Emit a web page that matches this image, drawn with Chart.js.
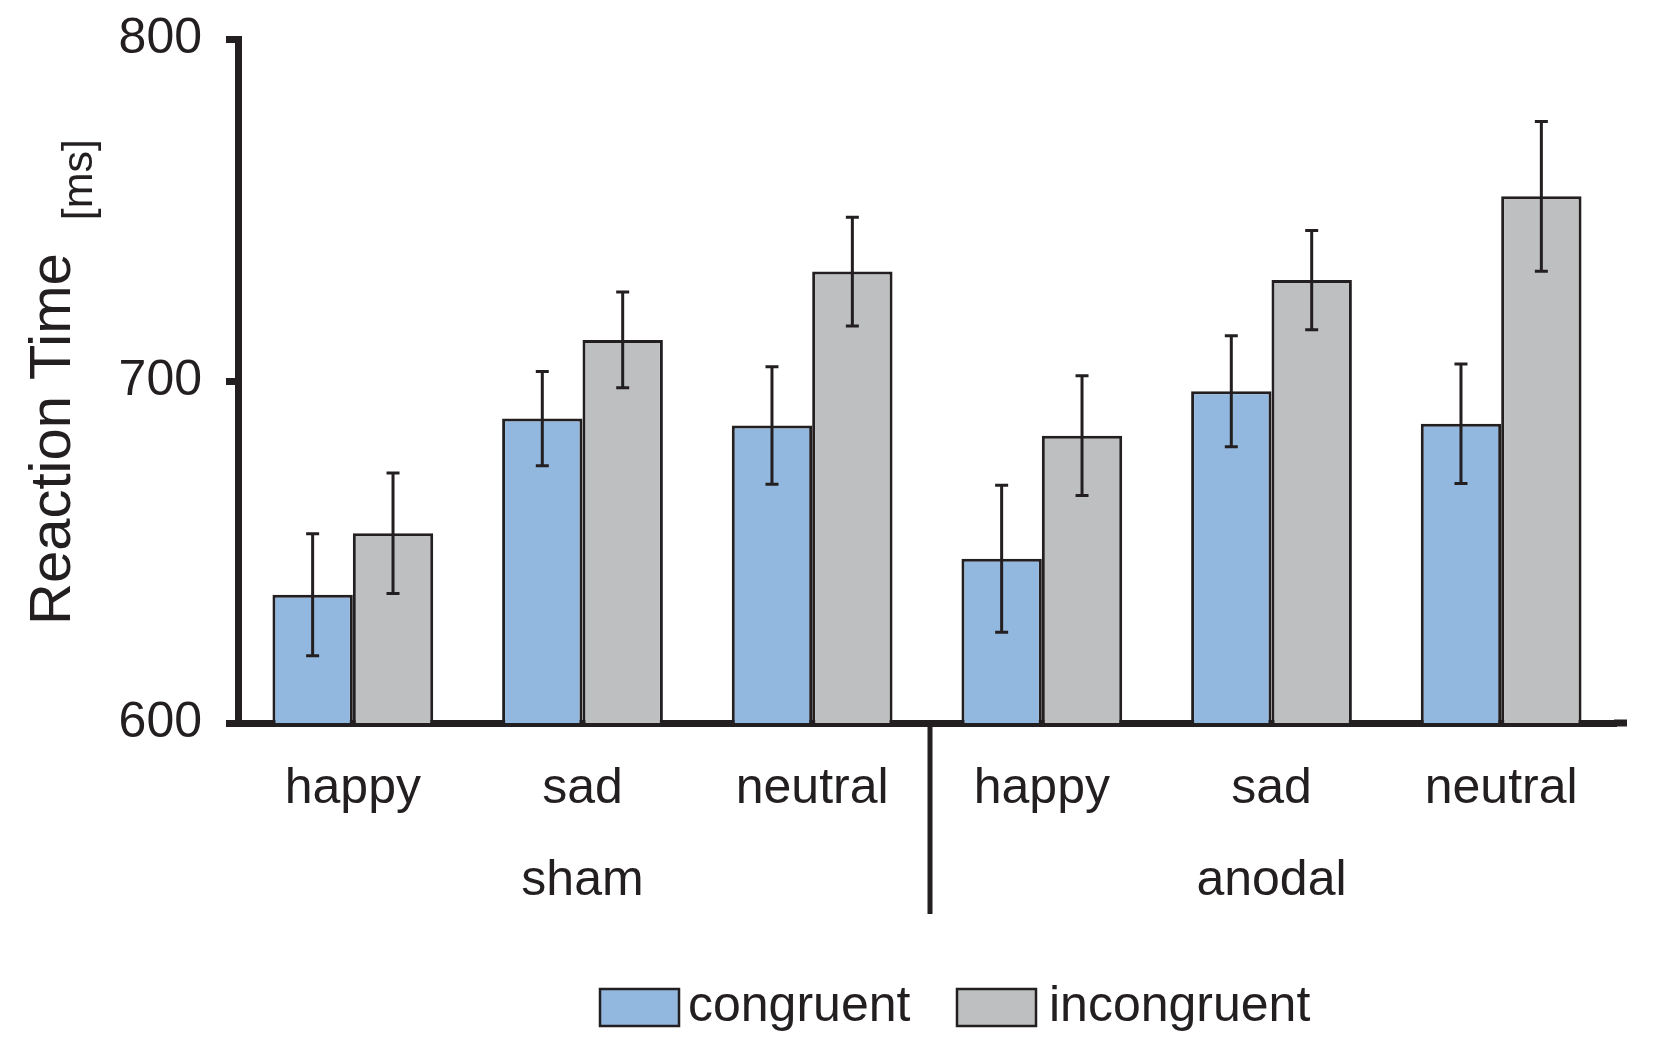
<!DOCTYPE html>
<html>
<head>
<meta charset="UTF-8">
<script src="https://cdn.jsdelivr.net/npm/chart.js@4.4.1/dist/chart.umd.min.js"></script>
<style>
  body { margin: 0; background: #ffffff; }
  #wrap { width: 1654px; height: 1053px; }
</style>
</head>
<body>
<div id="wrap"><canvas id="rt" width="1654" height="1053"></canvas></div>
<script>
// data
const conditions = ['happy', 'sad', 'neutral', 'happy', 'sad', 'neutral'];
const groups = ['sham', 'anodal'];
const seriesNames = ['congruent', 'incongruent'];
const congruent = [637.5, 689, 687, 648, 697, 687.5];
const incongruent = [655.5, 712, 732, 684, 729.5, 754];
const congruentErr = [17.8, 13.8, 17.2, 21.5, 16.2, 17.5];
const incongruentErr = [17.6, 14, 15.9, 17.5, 14.5, 21.9];
const yTicks = [600, 700, 800];

const INK = '#231f20';
const FONT = '"Liberation Sans", Arial, Helvetica, sans-serif';
const colors = ['#92b8df', '#bebfc1'];

// error bars on top of each bar
const errorBars = {
  id: 'errorBars',
  afterDatasetsDraw(chart) {
    const ctx = chart.ctx;
    const y = chart.scales.y;
    const errs = [congruentErr, incongruentErr];
    ctx.save();
    ctx.strokeStyle = INK;
    ctx.lineWidth = 3;
    chart.data.datasets.forEach((ds, di) => {
      const meta = chart.getDatasetMeta(di);
      meta.data.forEach((bar, i) => {
        const v = ds.data[i], e = errs[di][i];
        const top = y.getPixelForValue(v + e);
        const bot = y.getPixelForValue(v - e);
        ctx.beginPath();
        ctx.moveTo(bar.x, top); ctx.lineTo(bar.x, bot);
        ctx.moveTo(bar.x - 6.5, top); ctx.lineTo(bar.x + 6.5, top);
        ctx.moveTo(bar.x - 6.5, bot); ctx.lineTo(bar.x + 6.5, bot);
        ctx.stroke();
      });
    });
    ctx.restore();
  }
};

// group labels, divider, y title, legend
const decorations = {
  id: 'decorations',
  afterDraw(chart) {
    const ctx = chart.ctx;
    const x = chart.scales.x;
    const area = chart.chartArea;
    const per = conditions.length / groups.length;
    ctx.save();
    ctx.fillStyle = INK;
    ctx.strokeStyle = INK;

    // x axis runs a little past the last group
    ctx.lineWidth = 7;
    ctx.beginPath();
    ctx.moveTo(area.right - 2, area.bottom);
    ctx.lineTo(1627, area.bottom);
    ctx.stroke();

    ctx.font = '50px ' + FONT;
    ctx.textAlign = 'center';
    ctx.textBaseline = 'alphabetic';
    groups.forEach((g, gi) => {
      const a = x.getPixelForValue(gi * per);
      const b = x.getPixelForValue(gi * per + per - 1);
      ctx.fillText(g, (a + b) / 2, 895);
    });

    // divider between sham and anodal
    const dx = (x.getPixelForValue(per - 1) + x.getPixelForValue(per)) / 2 + 3;
    ctx.lineWidth = 5;
    ctx.beginPath();
    ctx.moveTo(dx, area.bottom);
    ctx.lineTo(dx, 914);
    ctx.stroke();

    // y axis title with small unit
    ctx.save();
    ctx.translate(70, 625);
    ctx.rotate(-Math.PI / 2);
    ctx.textAlign = 'left';
    ctx.font = '58px ' + FONT;
    ctx.fillText('Reaction Time', 0, 0);
    const w = ctx.measureText('Reaction Time').width;
    ctx.font = '43px ' + FONT;
    ctx.fillText('[ms]', w + 33, 22);
    ctx.restore();

    // legend
    const items = [
      { box: 600, text: 688 },
      { box: 957, text: 1049 }
    ];
    ctx.font = '50px ' + FONT;
    ctx.textAlign = 'left';
    ctx.lineWidth = 2.5;
    items.forEach((it, i) => {
      ctx.fillStyle = colors[i];
      ctx.fillRect(it.box, 989, 79, 37);
      ctx.strokeRect(it.box, 989, 79, 37);
      ctx.fillStyle = INK;
      ctx.fillText(seriesNames[i], it.text, 1021);
    });
    ctx.restore();
  }
};

new Chart(document.getElementById('rt'), {
  type: 'bar',
  data: {
    labels: conditions,
    datasets: [
      { label: seriesNames[0], data: congruent, backgroundColor: colors[0] },
      { label: seriesNames[1], data: incongruent, backgroundColor: colors[1] }
    ]
  },
  options: {
    responsive: false,
    animation: false,
    devicePixelRatio: 1,
    layout: { padding: { top: 39, right: 38, left: 0, bottom: 0 } },
    datasets: {
      bar: {
        borderColor: INK,
        borderWidth: 3,
        borderSkipped: false,
        barPercentage: 1.0,
        categoryPercentage: 0.70
      }
    },
    plugins: {
      legend: { display: false },
      tooltip: { enabled: false }
    },
    scales: {
      x: {
        grid: { display: false, drawTicks: false },
        border: { display: true, color: INK, width: 7 },
        ticks: {
          color: INK,
          font: { family: FONT, size: 50 },
          padding: 36,
          maxRotation: 0,
          autoSkip: false
        },
        afterFit(scale) {
          scale.height = 330;
          scale.paddingLeft = 0;
          scale.paddingRight = 0;
        }
      },
      y: {
        min: 600,
        max: 800,
        afterBuildTicks(scale) { scale.ticks = yTicks.map(v => ({ value: v })); },
        grid: {
          drawOnChartArea: false,
          drawTicks: true,
          tickLength: 12,
          tickWidth: 7,
          tickColor: INK
        },
        border: { display: true, color: INK, width: 7 },
        ticks: {
          color: INK,
          font: { family: FONT, size: 50 },
          padding: 24
        },
        afterFit(scale) {
          scale.width = 238;
          scale.paddingTop = 0;
          scale.paddingBottom = 0;
        }
      }
    }
  },
  plugins: [errorBars, decorations]
});
</script>
</body>
</html>
